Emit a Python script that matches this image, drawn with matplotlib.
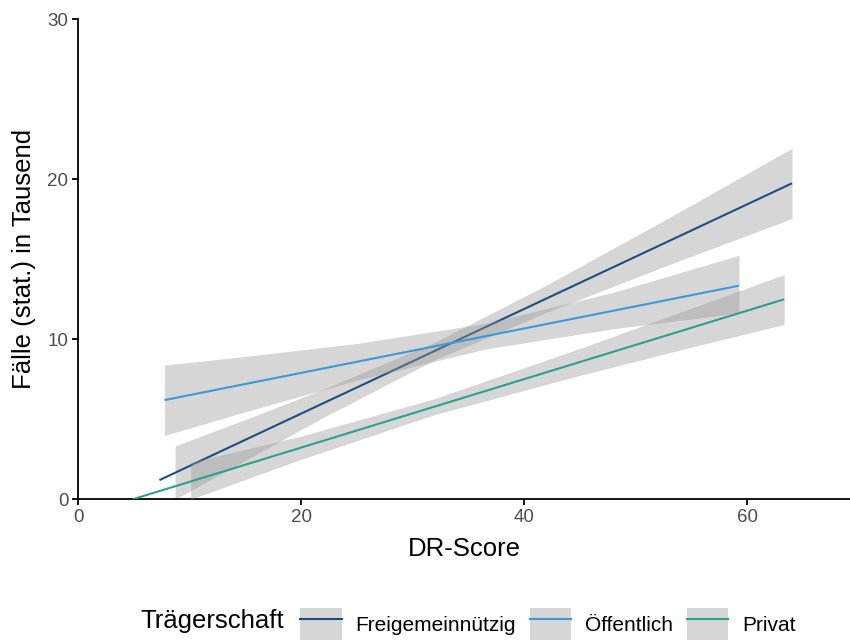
import matplotlib
matplotlib.use("Agg")
import matplotlib.pyplot as plt
from matplotlib.patches import Patch
from matplotlib.lines import Line2D
from matplotlib.legend_handler import HandlerTuple

plt.rcParams['font.family'] = ['Liberation Sans', 'DejaVu Sans']

# Trägerschaft groups and colours
groups = ["Freigemeinnützig", "Öffentlich", "Privat"]
colors = ["#1C4E80", "#3A9AD9", "#2BA08E"]

# fitted regression lines (DR-Score -> Fälle in Tausend)
frei_line_x = [7.3, 64.0]
frei_line_y = [1.2, 19.75]
oeff_line_x = [7.75, 59.25]
oeff_line_y = [6.2, 13.35]
priv_line_x = [4.9, 63.3]
priv_line_y = [0.0, 12.5]

# confidence bands
frei_band_x = [8.7, 15, 22, 32, 42, 53, 64.0]
frei_upper = [3.33, 4.99, 6.88, 9.82, 13.39, 17.61, 21.94]
frei_lower = [0.0, 2.43, 5.12, 8.72, 11.69, 14.67, 17.54]

oeff_band_x = [7.75, 15, 25, 36.5, 48, 59.25]
oeff_upper = [8.39, 8.93, 9.74, 10.99, 12.94, 15.25]
oeff_lower = [3.99, 5.47, 7.44, 9.39, 10.66, 11.65]

priv_band_x = [10.1, 20, 32, 45, 55, 63.3]
priv_upper = [2.31, 3.95, 6.30, 9.43, 11.95, 14.05]
priv_lower = [0.0, 2.50, 5.30, 7.75, 9.51, 10.93]

lines = [(frei_line_x, frei_line_y), (oeff_line_x, oeff_line_y), (priv_line_x, priv_line_y)]
bands = [(frei_band_x, frei_lower, frei_upper),
         (oeff_band_x, oeff_lower, oeff_upper),
         (priv_band_x, priv_lower, priv_upper)]

fig = plt.figure(figsize=(8.5, 6.4), dpi=100)
ax = fig.add_axes([78 / 850, 1 - 499.3 / 640, 1 - 78 / 850, 480 / 640])

band_fill = "#999999"
for i, (col, (lx, ly), (bx, lo, hi)) in enumerate(zip(colors, lines, bands)):
    ax.fill_between(bx, lo, hi, color=band_fill, alpha=0.4, linewidth=0, zorder=2 + 2 * i)
    ax.plot(lx, ly, color=col, linewidth=1.5, solid_capstyle='butt', zorder=3 + 2 * i)

ax.set_xlim(0, 69.2)
ax.set_ylim(0, 30)
ax.set_xticks([0, 20, 40, 60])
ax.set_yticks([0, 10, 20, 30])

for side in ['top', 'right']:
    ax.spines[side].set_visible(False)
for side in ['left', 'bottom']:
    ax.spines[side].set_linewidth(1.3)
    ax.spines[side].set_color('black')
ax.tick_params(length=4, width=1.3, color='black', labelcolor='#4D4D4D',
               labelsize=13.5, pad=3)

ax.set_xlabel("DR-Score", fontsize=18.5, labelpad=8)
ax.set_ylabel("Fälle (stat.) in Tausend", fontsize=18.5, labelpad=8)

# legend at the bottom: grey key box with the coloured line
handles = [(Patch(facecolor=band_fill, alpha=0.4, edgecolor='none'),
            Line2D([], [], color=c, linewidth=1.5)) for c in colors]
fig.text(140 / 850, 1 - 621 / 640, "Trägerschaft", fontsize=18.5, va='center', ha='left')
fig.legend(handles, groups, handler_map={tuple: HandlerTuple(ndivide=1)},
           loc='center left', bbox_to_anchor=(300 / 850, 1 - 624 / 640),
           ncol=3, frameon=False, fontsize=15, borderpad=0, borderaxespad=0,
           handlelength=2.0, handleheight=2.0, handletextpad=0.66, columnspacing=0.66)

fig.savefig("out.png", dpi=100)
